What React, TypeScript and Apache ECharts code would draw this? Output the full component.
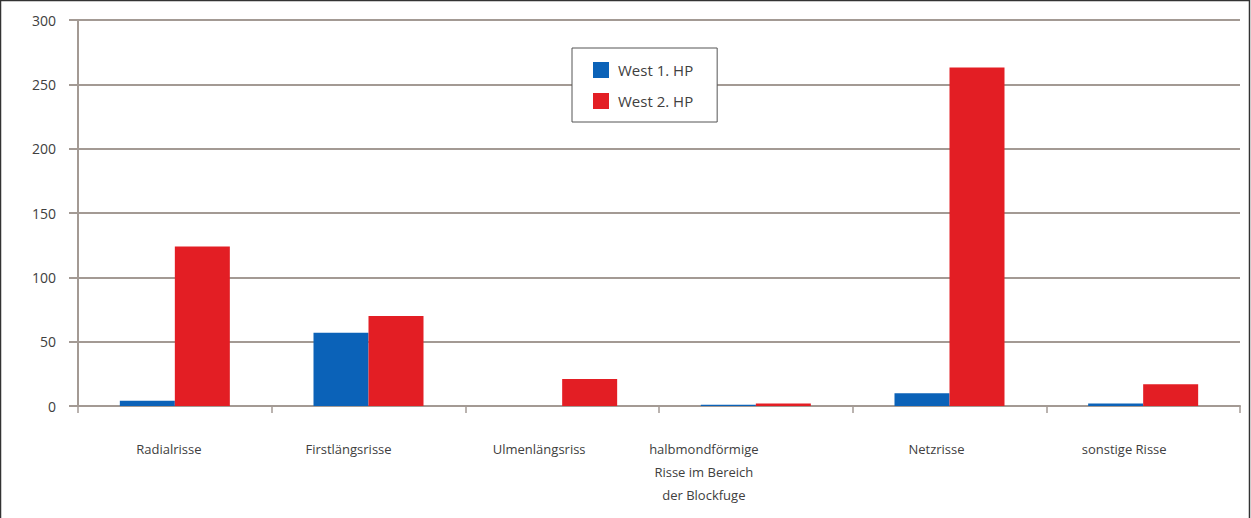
import React, { useEffect, useRef } from "react";
import * as echarts from "echarts";

const categories = [
  "Radialrisse",
  "Firstlängsrisse",
  "Ulmenlängsriss",
  "halbmondförmige\nRisse im Bereich\nder Blockfuge",
  "Netzrisse",
  "sonstige Risse",
];
const west1 = [4, 57, 0, 1, 10, 2];
const west2 = [124, 70, 21, 2, 263, 17];
const seriesNames = ["West 1. HP", "West 2. HP"];
// horizontal shift (px, to the left) of each category label, as drawn in the original
const labelShiftLeft = [6, 20, 23, 52, 13, 19];

export default function App() {
  const ref = useRef<HTMLDivElement>(null);
  useEffect(() => {
    document.body.style.margin = "0";
    const chart = echarts.init(ref.current!, null, { renderer: "svg" });
    const font = "'Open Sans', 'Liberation Sans', sans-serif";
    const gridColor = "#a39a94";
    chart.setOption({
      animation: false,
      backgroundColor: "#ffffff",
      textStyle: { fontFamily: font },
      grid: { left: 78, right: 11, top: 20, bottom: 112, containLabel: false },
      legend: {
        orient: "vertical",
        left: 572,
        top: 48,
        backgroundColor: "#ffffff",
        borderColor: "#555555",
        borderWidth: 1,
        padding: [14, 24, 13, 21],
        itemGap: 15,
        itemWidth: 16,
        itemHeight: 16,
        icon: "rect",
        textStyle: { fontSize: 15, color: "#404040", fontFamily: font, padding: [0, 0, 0, 4] },
        data: seriesNames,
      },
      xAxis: {
        type: "category",
        data: categories.map((c, i) => ({
          value: c,
          textStyle: { padding: [0, labelShiftLeft[i] * 2, 0, 0] },
        })),
        axisLine: { lineStyle: { color: gridColor, width: 2 } },
        axisTick: { show: true, length: 7, lineStyle: { color: gridColor, width: 1.5 } },
        axisLabel: {
          color: "#404040",
          fontSize: 13,
          margin: 31,
          lineHeight: 23,
          interval: 0,
          fontFamily: font,
        },
      },
      yAxis: {
        type: "value",
        min: 0,
        max: 300,
        interval: 50,
        axisLine: { show: true, lineStyle: { color: gridColor, width: 2 } },
        axisTick: { show: true, length: 9, lineStyle: { color: gridColor, width: 2 } },
        axisLabel: { color: "#404040", fontSize: 14, margin: 22, fontFamily: font },
        splitLine: { lineStyle: { color: gridColor, width: 2 } },
      },
      series: [
        {
          name: seriesNames[0],
          type: "bar",
          data: west1,
          barWidth: 55,
          barGap: "0%",
          itemStyle: { color: "#0b62b8" },
        },
        {
          name: seriesNames[1],
          type: "bar",
          data: west2,
          barWidth: 55,
          barGap: "0%",
          itemStyle: { color: "#e31e24" },
        },
      ],
      graphic: [
        {
          type: "rect",
          shape: { x: 0.5, y: 0.5, width: 1249, height: 530 },
          style: { fill: "none", stroke: "#333333", lineWidth: 1.5 },
          silent: true,
        },
      ],
    });
    return () => chart.dispose();
  }, []);
  return (
    <div
      ref={ref}
      style={{ position: "absolute", left: 0, top: 0, width: 1251, height: 518 }}
    />
  );
}
